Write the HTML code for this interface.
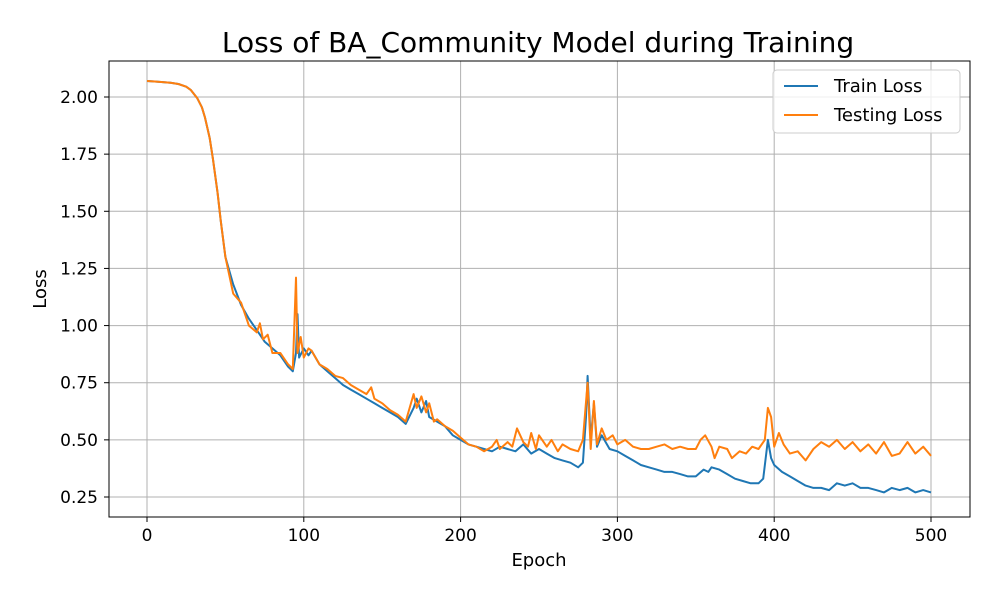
<!DOCTYPE html>
<html><head><meta charset="utf-8"><style>
body{margin:0;background:#fff;font-family:"Liberation Sans","DejaVu Sans",sans-serif}
svg text{font-family:"DejaVu Sans","Liberation Sans",sans-serif}
</style></head><body>
<svg id="chart" width="1000" height="600">
<rect width="1000" height="600" fill="#fff"/>
<text x="538" y="52" font-size="28" text-anchor="middle">Loss of BA_Community Model during Training</text>
<g id="grid"></g><g id="series"></g>
<rect x="109" y="61" width="861" height="456" fill="none" stroke="#000" stroke-width="1"/>
<g id="axes"></g>
<text x="539" y="566" font-size="18" text-anchor="middle">Epoch</text>
<text x="46" y="289" font-size="18" text-anchor="middle" transform="rotate(-90 46 289)">Loss</text>
<g>
<rect x="773" y="70" width="187" height="63" rx="4" fill="#fff" fill-opacity="0.8" stroke="#ccc"/>
<line x1="784" y1="86" x2="818" y2="86" stroke="#1f77b4" stroke-width="2"/>
<text x="834" y="92" font-size="18">Train Loss</text>
<line x1="784" y1="115" x2="818" y2="115" stroke="#ff7f0e" stroke-width="2"/>
<text x="834" y="121" font-size="18">Testing Loss</text>
</g>
</svg>
<script>
const trainEpochs=[0,5,10,15,20,25,28,32,35,37,40,42,45,47,50,55,60,65,70,75,80,85,90,93,95,96,97,100,103,105,110,115,120,125,130,135,140,145,150,155,160,165,170,172,175,178,180,185,190,195,200,205,210,215,220,225,230,235,240,245,250,255,260,265,270,275,278,280,281,283,285,287,290,295,300,305,310,315,320,325,330,335,340,345,350,355,358,360,365,370,375,380,385,390,393,396,398,400,405,410,415,420,425,430,435,440,445,450,455,460,465,470,475,480,485,490,495,500];
const trainLoss=[2.07,2.068,2.065,2.062,2.057,2.045,2.03,1.995,1.955,1.91,1.82,1.73,1.58,1.46,1.30,1.18,1.09,1.03,0.98,0.93,0.90,0.87,0.82,0.80,0.88,1.05,0.86,0.90,0.87,0.89,0.83,0.80,0.77,0.74,0.72,0.70,0.68,0.66,0.64,0.62,0.60,0.57,0.64,0.68,0.62,0.67,0.60,0.58,0.56,0.52,0.50,0.48,0.47,0.46,0.45,0.47,0.46,0.45,0.48,0.44,0.46,0.44,0.42,0.41,0.40,0.38,0.40,0.60,0.78,0.50,0.66,0.47,0.52,0.46,0.45,0.43,0.41,0.39,0.38,0.37,0.36,0.36,0.35,0.34,0.34,0.37,0.36,0.38,0.37,0.35,0.33,0.32,0.31,0.31,0.33,0.50,0.42,0.39,0.36,0.34,0.32,0.30,0.29,0.29,0.28,0.31,0.30,0.31,0.29,0.29,0.28,0.27,0.29,0.28,0.29,0.27,0.28,0.27];
const testEpochs=[0,5,10,15,20,25,28,32,35,37,40,42,45,47,50,55,60,65,70,72,74,77,80,85,90,93,95,96,98,100,103,105,110,115,120,125,130,135,140,143,145,150,155,160,165,170,172,175,178,180,183,185,190,195,200,205,210,215,220,223,225,230,233,236,240,243,245,248,250,255,258,262,265,270,275,278,281,283,285,287,290,293,297,300,305,310,315,320,325,330,335,340,345,350,353,356,360,362,365,370,373,378,382,386,390,394,396,398,400,403,406,410,415,420,425,430,435,440,445,450,455,460,465,470,475,480,485,490,495,500];
const testLoss=[2.07,2.068,2.065,2.062,2.057,2.045,2.03,1.995,1.955,1.91,1.82,1.73,1.58,1.46,1.30,1.14,1.10,1.00,0.97,1.01,0.94,0.96,0.88,0.88,0.83,0.81,1.21,0.88,0.95,0.86,0.90,0.89,0.83,0.81,0.78,0.77,0.74,0.72,0.70,0.73,0.68,0.66,0.63,0.61,0.58,0.70,0.64,0.69,0.62,0.66,0.58,0.59,0.56,0.54,0.51,0.48,0.47,0.45,0.47,0.50,0.46,0.49,0.47,0.55,0.49,0.47,0.53,0.46,0.52,0.47,0.50,0.45,0.48,0.46,0.45,0.50,0.75,0.46,0.67,0.48,0.55,0.50,0.52,0.48,0.50,0.47,0.46,0.46,0.47,0.48,0.46,0.47,0.46,0.46,0.50,0.52,0.47,0.42,0.47,0.46,0.42,0.45,0.44,0.47,0.46,0.50,0.64,0.60,0.47,0.53,0.48,0.44,0.45,0.41,0.46,0.49,0.47,0.50,0.46,0.49,0.45,0.48,0.44,0.49,0.43,0.44,0.49,0.44,0.47,0.43];
const xTicks=[0,100,200,300,400,500];
const yTicks=[0.25,0.50,0.75,1.00,1.25,1.50,1.75,2.00];
const NS='http://www.w3.org/2000/svg';
const xs=e=>147+e*(931-147)/500;
const ys=v=>97+(2-v)*(497-97)/1.75;
function mk(tag,attrs,parent){const el=document.createElementNS(NS,tag);for(const k in attrs)el.setAttribute(k,attrs[k]);parent.appendChild(el);return el;}
const grid=document.getElementById('grid'),axes=document.getElementById('axes'),series=document.getElementById('series');
xTicks.forEach(t=>{const x=xs(t);
 const g=mk('line',{x1:x,x2:x,y1:61,y2:517,stroke:'#b0b0b0','stroke-width':1},grid);
 
 
 mk('line',{x1:x,x2:x,y1:517,y2:522,stroke:'#000'},axes);
 const tx=mk('text',{x:x,y:541,'font-size':17,'text-anchor':'middle'},axes);tx.textContent=t;
 
 
});
yTicks.forEach(t=>{const y=ys(t);
 const g=mk('line',{x1:109,x2:970,y1:y,y2:y,stroke:'#b0b0b0','stroke-width':1},grid);
 
 
 mk('line',{x1:104,x2:109,y1:y,y2:y,stroke:'#000'},axes);
 const tx=mk('text',{x:98,y:y+6,'font-size':17,'text-anchor':'end'},axes);tx.textContent=t.toFixed(2);
 
 
});
function line(ep,vals,color,name){
 const d=ep.map((e,i)=>(i?'L':'M')+xs(e).toFixed(1)+' '+ys(vals[i]).toFixed(1)).join(' ');
 const p=mk('path',{d:d,fill:'none',stroke:color,'stroke-width':2,'stroke-linejoin':'round'},series);
 
 
}
line(trainEpochs,trainLoss,'#1f77b4','train-loss-line');
line(testEpochs,testLoss,'#ff7f0e','testing-loss-line');
</script>
</body></html>
